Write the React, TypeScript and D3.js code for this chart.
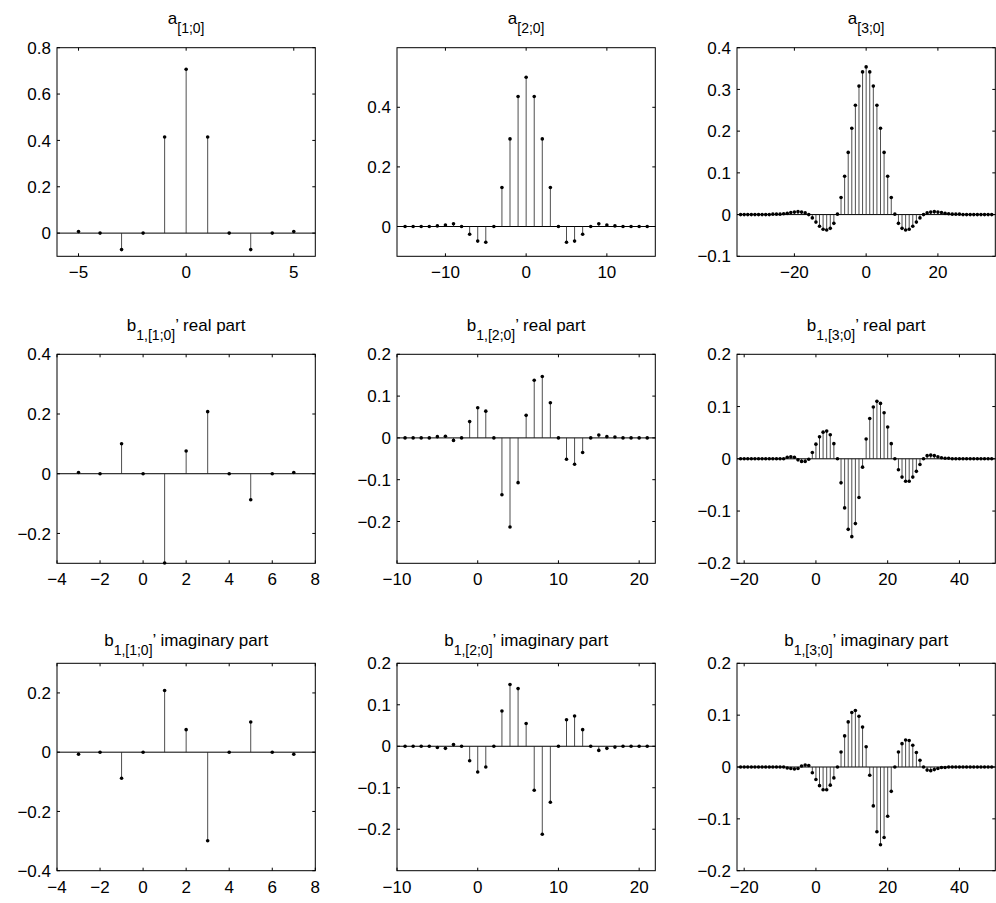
import React from "react";
import * as d3 from "d3";

// ---------- data ----------
const a10Start = -5;
const a10Values = [0.007, 0, -0.071, 0, 0.415, 0.707, 0.415, 0, -0.071, 0, 0.007];

const a20Start = -15;
const a20Values = [
  0, 0, 0, 0, 0.002, 0.005, 0.009, 0, -0.026, -0.049, -0.053, 0, 0.131, 0.294, 0.436, 0.501,
  0.436, 0.294, 0.131, 0, -0.053, -0.049, -0.026, 0, 0.009, 0.005, 0.002, 0, 0, 0, 0,
];

const a30Start = -35;
const a30Values = [
  0, 0, 0, 0, 0, 0, 0, 0, 0,
  0.001, 0.001, 0.001, 0.002, 0.003, 0.005, 0.006, 0.007, 0.006, 0.004, 0.0,
  -0.008, -0.018, -0.028, -0.035, -0.037, -0.033, -0.021, 0.001,
  0.041, 0.092, 0.149, 0.207, 0.262, 0.308, 0.342, 0.354, 0.342, 0.308, 0.262, 0.207, 0.149, 0.092, 0.041,
  0.001, -0.021, -0.033, -0.037, -0.035, -0.028, -0.018, -0.008,
  0.0, 0.004, 0.006, 0.007, 0.006, 0.005, 0.003, 0.002, 0.001, 0.001, 0.001,
  0, 0, 0, 0, 0, 0, 0, 0, 0,
];

const b1r1Start = -3;
const b1r1Values = [0.004, 0, 0.1005, 0, -0.299, 0.076, 0.208, 0, -0.087, 0, 0.004];

const b1r2Start = -9;
const b1r2Values = [
  0, 0, 0, 0, 0.003, 0.004, -0.006, 0, 0.039, 0.072, 0.064, 0, -0.136, -0.213, -0.107, 0.054,
  0.138, 0.147, 0.084, 0, -0.051, -0.063, -0.035, 0, 0.007, 0.003, 0.002, 0, 0, 0, 0,
];

const b1r3Start = -21;
const b1r3Values = [
  0, 0, 0, 0, 0, 0, 0, 0, 0, 0, 0, 0, 0,
  0.003, 0.004, 0.003, -0.002, -0.005, -0.005, -0.001, 0.012, 0.028, 0.042, 0.051, 0.053, 0.046, 0.029, 0.0,
  -0.046, -0.094, -0.135, -0.149, -0.124, -0.074, -0.016, 0.038, 0.077, 0.099, 0.11, 0.106, 0.088, 0.061, 0.029, 0.0,
  -0.021, -0.035, -0.043, -0.043, -0.035, -0.024, -0.011, 0.0, 0.006, 0.007, 0.006, 0.004, 0.002, 0.001, 0.001,
  0, 0, 0, 0, 0, 0, 0, 0, 0, 0, 0, 0,
];

const b1i1Start = -3;
const b1i1Values = [-0.007, 0, -0.088, 0, 0.208, 0.076, -0.299, 0, 0.102, 0, -0.007];

const b1i2Start = -9;
const b1i2Values = [
  0, 0, 0, 0, -0.003, -0.005, 0.004, 0, -0.035, -0.062, -0.05, 0, 0.085, 0.149, 0.139, 0.055,
  -0.106, -0.212, -0.135, 0, 0.064, 0.073, 0.04, 0, -0.01, -0.005, -0.002, 0, 0, 0, 0,
];

const b1i3Start = -21;
const b1i3Values = [
  0, 0, 0, 0, 0, 0, 0, 0, 0, 0, 0, 0, 0,
  -0.002, -0.003, -0.004, -0.003, 0.002, 0.004, 0.003, -0.011, -0.024, -0.036, -0.044, -0.044, -0.035, -0.021, 0.0,
  0.029, 0.06, 0.087, 0.105, 0.109, 0.098, 0.077, 0.039, -0.016, -0.075, -0.125, -0.15, -0.136, -0.095, -0.047, 0.0,
  0.029, 0.045, 0.052, 0.051, 0.042, 0.028, 0.013, 0.0, -0.006, -0.007, -0.005, -0.003, -0.001, -0.001, 0,
  0, 0, 0, 0, 0, 0, 0, 0, 0, 0, 0, 0,
];

// titles
const titleMains = ["a", "a", "a", "b", "b", "b", "b", "b", "b"];
const titleSubs = ["[1;0]", "[2;0]", "[3;0]", "1,[1;0]", "1,[2;0]", "1,[3;0]", "1,[1;0]", "1,[2;0]", "1,[3;0]"];
const titleSuffix = ["", "", "", "’ real part", "’ real part", "’ real part", "’ imaginary part", "’ imaginary part", "’ imaginary part"];

// axis domains and ticks
const xDomains: [number, number][] = [[-6, 6], [-16, 16], [-36, 36], [-4, 8], [-10, 22], [-22, 50], [-4, 8], [-10, 22], [-22, 50]];
const yDomains: [number, number][] = [[-0.1, 0.8], [-0.1, 0.6], [-0.1, 0.4], [-0.3, 0.4], [-0.3, 0.2], [-0.2, 0.2], [-0.4, 0.3], [-0.3, 0.2], [-0.2, 0.2]];
const xTickSets = [
  [-5, 0, 5], [-10, 0, 10], [-20, 0, 20],
  [-4, -2, 0, 2, 4, 6, 8], [-10, 0, 10, 20], [-20, 0, 20, 40],
  [-4, -2, 0, 2, 4, 6, 8], [-10, 0, 10, 20], [-20, 0, 20, 40],
];
const yTickSets = [
  [0, 0.2, 0.4, 0.6, 0.8], [0, 0.2, 0.4], [-0.1, 0, 0.1, 0.2, 0.3, 0.4],
  [-0.2, 0, 0.2, 0.4], [-0.2, -0.1, 0, 0.1, 0.2], [-0.2, -0.1, 0, 0.1, 0.2],
  [-0.4, -0.2, 0, 0.2], [-0.2, -0.1, 0, 0.1, 0.2], [-0.2, -0.1, 0, 0.1, 0.2],
];

const seriesStarts = [a10Start, a20Start, a30Start, b1r1Start, b1r2Start, b1r3Start, b1i1Start, b1i2Start, b1i3Start];
const seriesValues = [a10Values, a20Values, a30Values, b1r1Values, b1r2Values, b1r3Values, b1i1Values, b1i2Values, b1i3Values];

// ---------- layout ----------
const colLeft = [57, 397, 737];
const axW = 258.3;
const rowTop = [47.7, 354.3, 663.3];
const rowH = [208.6, 209, 207.4];
const titleBase = [24, 330.7, 646];

const FONT = "'Liberation Sans', Arial, Helvetica, sans-serif";
const fmt = (v: number) => String(v).replace("-", "\u2212");

function Panel({ idx }: { idx: number }) {
  const col = idx % 3;
  const row = Math.floor(idx / 3);
  const x0 = colLeft[col];
  const y0 = rowTop[row];
  const w = axW;
  const h = rowH[row];
  const x = d3.scaleLinear().domain(xDomains[idx]).range([x0, x0 + w]);
  const y = d3.scaleLinear().domain(yDomains[idx]).range([y0 + h, y0]);
  const start = seriesStarts[idx];
  const data = seriesValues[idx].map((v, i) => ({ n: start + i, v }));
  const tl = 3;
  const cx = x0 + w / 2;
  return (
    <g>
      {/* title */}
      <text x={cx} y={titleBase[row]} textAnchor="middle" fontSize={17} fontFamily={FONT} fill="#000">
        <tspan>{titleMains[idx]}</tspan>
        <tspan dy={9} fontSize={14}>{titleSubs[idx]}</tspan>
        {titleSuffix[idx] && <tspan dy={-9}>{titleSuffix[idx]}</tspan>}
      </text>
      {/* baseline */}
      <line x1={x0} x2={x0 + w} y1={y(0)} y2={y(0)} stroke="#000" strokeWidth={1} />
      {/* stems */}
      {data.map((d) => (
        <line key={"s" + d.n} x1={x(d.n)} x2={x(d.n)} y1={y(0)} y2={y(d.v)} stroke="#222" strokeWidth={0.8} />
      ))}
      {data.map((d) => (
        <circle key={"c" + d.n} cx={x(d.n)} cy={y(d.v)} r={1.8} fill="#000" />
      ))}
      {/* box */}
      <rect x={x0} y={y0} width={w} height={h} fill="none" stroke="#000" strokeWidth={1} />
      {/* x ticks */}
      {xTickSets[idx].map((t) => (
        <g key={"xt" + t}>
          <line x1={x(t)} x2={x(t)} y1={y0 + h} y2={y0 + h - tl} stroke="#000" strokeWidth={1} />
          <line x1={x(t)} x2={x(t)} y1={y0} y2={y0 + tl} stroke="#000" strokeWidth={1} />
          <text x={x(t)} y={y0 + h + 22} textAnchor="middle" fontSize={17} fontFamily={FONT} fill="#000">
            {fmt(t)}
          </text>
        </g>
      ))}
      {/* y ticks */}
      {yTickSets[idx].map((t) => (
        <g key={"yt" + t}>
          <line x1={x0} x2={x0 + tl} y1={y(t)} y2={y(t)} stroke="#000" strokeWidth={1} />
          <line x1={x0 + w} x2={x0 + w - tl} y1={y(t)} y2={y(t)} stroke="#000" strokeWidth={1} />
          <text x={x0 - 6} y={y(t)} dy="0.36em" textAnchor="end" fontSize={17} fontFamily={FONT} fill="#000">
            {fmt(t)}
          </text>
        </g>
      ))}
    </g>
  );
}

export default function App() {
  return (
    <svg
      width={996}
      height={903}
      style={{ position: "absolute", left: 0, top: 0, background: "#fff" }}
    >
      <rect x={0} y={0} width={996} height={903} fill="#fff" />
      {d3.range(9).map((i) => (
        <Panel key={i} idx={i} />
      ))}
    </svg>
  );
}
